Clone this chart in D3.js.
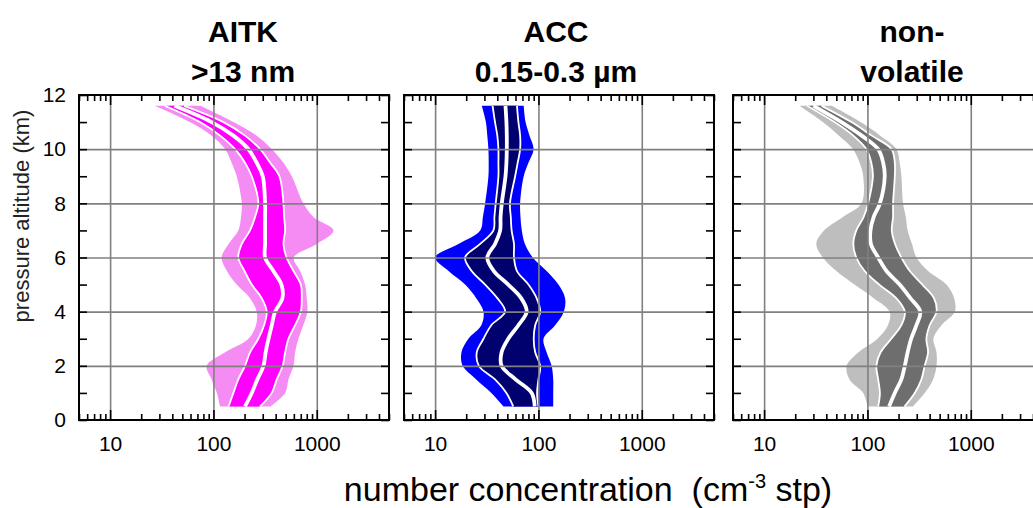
<!DOCTYPE html>
<html>
<head>
<meta charset="utf-8">
<script src="https://cdn.jsdelivr.net/npm/d3@7"></script>
<style>
  body { margin: 0; background: #fff; }
  svg text { font-family: "Liberation Sans", Arial, sans-serif; white-space: pre; }
</style>
</head>
<body>
<script>
// altitude levels (km) of the profiles
var altitudes = [0.5, 1, 1.5, 2, 2.5, 3, 3.5, 4, 4.5, 5, 5.5, 6, 6.5, 7, 7.5, 8, 9, 9.5, 10, 10.5, 11, 11.6];

// AITK >13 nm  (percentiles, cm-3)
var aitkP10 = [116, 108, 96, 86, 130, 218, 258, 262, 226, 168, 135, 120, 140, 174, 185, 188, 168, 150, 130, 96, 59, 27];
var aitkP25 = [140, 156, 174, 202, 226, 272, 309, 328, 293, 235, 200, 174, 188, 226, 253, 272, 235, 202, 162, 116, 74, 34];
var aitkP50 = [202, 235, 266, 305, 320, 341, 367, 395, 465, 455, 380, 316, 316, 316, 316, 316, 300, 262, 218, 156, 96, 42];
var aitkP75 = [283, 367, 410, 468, 494, 532, 617, 700, 716, 700, 595, 510, 476, 494, 483, 476, 435, 354, 283, 202, 125, 52];
var aitkP90 = [354, 494, 532, 595, 617, 664, 740, 810, 800, 770, 690, 600, 1000, 1452, 929, 741, 573, 476, 367, 262, 156, 75];

// ACC 0.15-0.3 um
var accP10 = [46, 35, 25, 18.5, 18, 21, 28, 29.4, 25, 19.5, 13.5, 10, 16.8, 27.3, 29, 30.5, 32.8, 33, 32.8, 32, 31, 28.3];
var accP25 = [57, 49, 38, 26.5, 25.3, 29.4, 35, 47.6, 40, 30.5, 22.6, 19.5, 27.3, 36.7, 37.5, 38.6, 41, 41, 41, 40, 38, 36];
var accP50 = [92, 86, 60, 44, 44, 51, 64, 77, 68, 51, 37, 32, 38, 42.6, 43, 44.2, 48, 49, 49.4, 49.4, 49, 48];
var accP75 = [100, 97, 100, 104, 93, 90, 93, 104, 96, 80, 62, 58, 58, 55, 54, 53, 59.5, 63, 66.5, 66.5, 64, 62];
var accP90 = [139, 139, 139, 134, 120, 112, 145, 176, 181, 156, 120, 88, 74, 69, 67, 66.5, 72, 80, 89.7, 82, 75, 72];

// non-volatile
var nvP10 = [100, 91, 67, 63, 82, 125, 158, 164, 115, 75, 50, 37, 32, 38, 58, 87.5, 91, 84, 72.6, 53, 37, 22];
var nvP25 = [127, 132, 127, 122, 134, 170, 213, 230, 190, 130, 94, 78, 73, 78, 92, 101.5, 113, 109, 97.8, 73, 48, 26];
var nvP50 = [162, 184, 213, 230, 245, 265, 298, 325, 260, 205, 153, 127, 108, 107, 115, 132, 147, 142, 127, 88, 56, 30];
var nvP75 = [228, 287, 333, 358, 386, 372, 400, 466, 440, 340, 257, 213, 185, 172, 177, 177, 184, 184, 171, 110, 70, 36];
var nvP90 = [275, 358, 432, 466, 466, 435, 520, 700, 690, 580, 386, 298, 270, 245, 235, 221, 213, 205, 191, 133, 86, 45];

var panelTitles = [["AITK", ">13 nm"], ["ACC", "0.15-0.3 µm"], ["non-", "volatile"]];
var xLabelTicks = [10, 100, 1000];
var yLabelTicks = [0, 2, 4, 6, 8, 10, 12];
var yGridTicks = [2, 4, 6, 8, 10];

var panels = [
    { p10: aitkP10, p25: aitkP25, p50: aitkP50, p75: aitkP75, p90: aitkP90, outer: "#f58cf3", inner: "#ff00ff", dx: 9 },
    { p10: accP10, p25: accP25, p50: accP50, p75: accP75, p90: accP90, outer: "#0000ff", inner: "#00006e", dx: -3 },
    { p10: nvP10, p25: nvP25, p50: nvP50, p75: nvP75, p90: nvP90, outer: "#bebebe", inner: "#6e6e6e", dx: 24 }
];

var panelLeft = [79, 404, 733];
var panelW = 310, panelH = 325, panelTop = 95;

var svg = d3.select("body").append("svg").attr("width", 1033).attr("height", 508);

var x = d3.scaleLog().domain([5, 5000]).range([0, panelW]);
var y = d3.scaleLinear().domain([0, 12]).range([panelH, 0]);
var curve = d3.curveCatmullRom.alpha(0.5);

function band(lo, hi) {
    return d3.area().curve(curve)
        .y(function (d) { return y(d.alt); })
        .x0(function (d) { return x(d[lo]); })
        .x1(function (d) { return x(d[hi]); });
}
function profile(key) {
    return d3.line().curve(curve)
        .y(function (d) { return y(d.alt); })
        .x(function (d) { return x(d[key]); });
}
function styleAxis(sel, size) {
    sel.select(".domain").remove();
    sel.attr("font-family", null).attr("font-size", size);
    sel.selectAll(".tick line").attr("stroke", "#000").attr("stroke-width", 1.6);
    sel.selectAll(".tick text").attr("fill", "#000");
}

panels.forEach(function (p, i) {
    var rows = altitudes.map(function (a, k) {
        return { alt: a, p10: p.p10[k], p25: p.p25[k], p50: p.p50[k], p75: p.p75[k], p90: p.p90[k] };
    });
    var g = svg.append("g").attr("transform", "translate(" + panelLeft[i] + "," + panelTop + ")");

    g.append("path").datum(rows).attr("d", band("p10", "p90")).attr("fill", p.outer);
    g.append("path").datum(rows).attr("d", band("p25", "p75")).attr("fill", p.inner);
    ["p25", "p75"].forEach(function (k) {
        g.append("path").datum(rows).attr("d", profile(k))
            .attr("fill", "none").attr("stroke", "#fff").attr("stroke-width", 1.8);
    });
    g.append("path").datum(rows).attr("d", profile("p50"))
        .attr("fill", "none").attr("stroke", "#fff").attr("stroke-width", 3.8);

    // grid
    var gx = g.append("g").call(d3.axisBottom(x).tickValues(xLabelTicks).tickSize(panelH).tickFormat(""));
    gx.select(".domain").remove();
    gx.selectAll("line").attr("stroke", "#808080").attr("stroke-width", 1.6);
    var gy = g.append("g").call(d3.axisLeft(y).tickValues(yGridTicks).tickSize(-panelW).tickFormat(""));
    gy.select(".domain").remove();
    gy.selectAll("line").attr("stroke", "#808080").attr("stroke-width", 1.6);

    // ticks
    var logTicks = x.ticks();
    var isMajor = function (d) { return xLabelTicks.indexOf(d) >= 0; };
    var bottom = g.append("g").attr("transform", "translate(0," + panelH + ")")
        .call(d3.axisBottom(x).tickValues(logTicks).tickSize(-6).tickPadding(16)
            .tickFormat(function (d) { return isMajor(d) ? d : ""; }));
    styleAxis(bottom, 21);
    bottom.selectAll(".tick line").filter(isMajor).attr("y2", -10);

    var top = g.append("g").call(d3.axisTop(x).tickValues(logTicks).tickSize(-6).tickFormat(""));
    styleAxis(top, 10);
    top.selectAll(".tick line").filter(isMajor).attr("y2", 10);

    var left = g.append("g").call(d3.axisLeft(y).tickValues(d3.range(0, 13)).tickSize(-8).tickPadding(13)
        .tickFormat(function (d) { return (i === 0 && yLabelTicks.indexOf(d) >= 0) ? d : ""; }));
    styleAxis(left, 21);

    var right = g.append("g").attr("transform", "translate(" + panelW + ",0)")
        .call(d3.axisRight(y).tickValues(d3.range(0, 13)).tickSize(-8).tickFormat(""));
    styleAxis(right, 10);

    g.append("rect").attr("width", panelW).attr("height", panelH)
        .attr("fill", "none").attr("stroke", "#000").attr("stroke-width", 2);

    // title
    var t = svg.append("text").attr("text-anchor", "middle").attr("font-weight", "bold").attr("font-size", 30)
        .attr("x", panelLeft[i] + panelW / 2 + p.dx);
    t.append("tspan").attr("x", panelLeft[i] + panelW / 2 + p.dx).attr("y", 42).text(panelTitles[i][0]);
    t.append("tspan").attr("x", panelLeft[i] + panelW / 2 + p.dx).attr("y", 82).text(panelTitles[i][1]);
});

svg.append("text").attr("transform", "translate(29,216) rotate(-90)")
    .attr("text-anchor", "middle").attr("font-size", 22).attr("fill", "#222")
    .text("pressure altitude (km)");

var xt = svg.append("text").attr("x", 588).attr("y", 501).attr("text-anchor", "middle").attr("font-size", 34);
xt.append("tspan").text("number concentration  (cm");
xt.append("tspan").attr("dy", -13).attr("font-size", 20).text("-3");
xt.append("tspan").attr("dy", 13).text(" stp)");
</script>
</body>
</html>
